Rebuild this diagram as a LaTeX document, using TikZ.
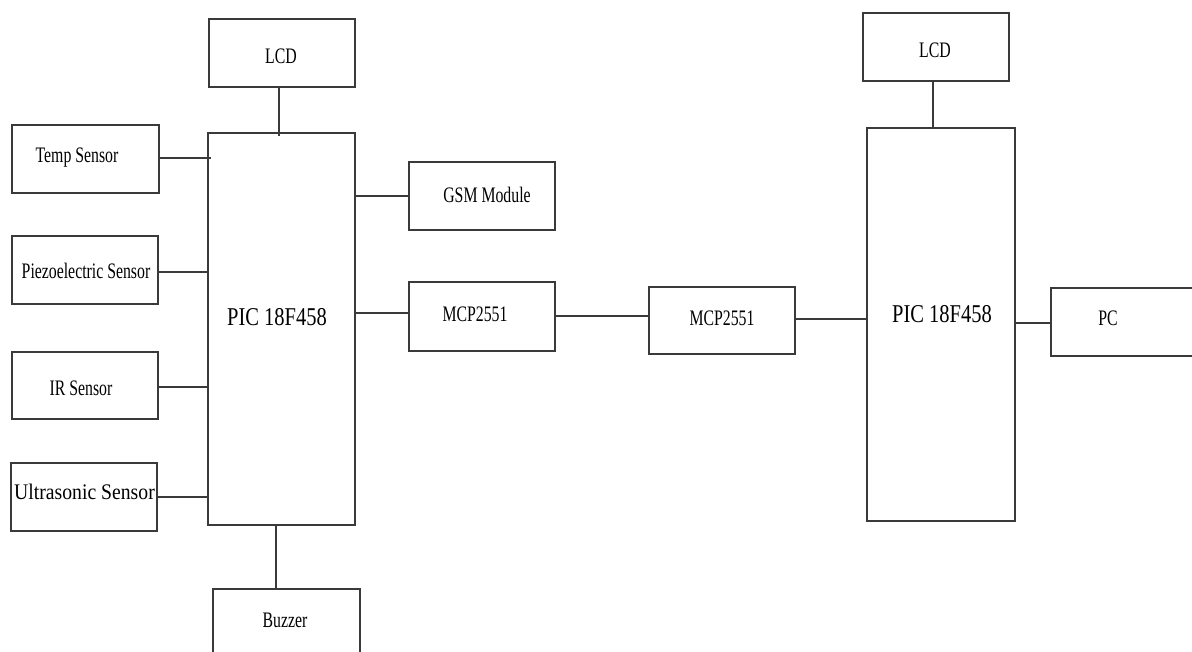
\documentclass[tikz,border=0pt]{standalone}
\usepackage{fontspec}
\usepackage{graphicx}
\setmainfont{Liberation Serif}
\newcommand\stx[1]{\scalebox{1}[1.4]{#1}}
\newcommand\sty[1]{\scalebox{1}[1.25]{#1}}
\newcommand\stz[1]{\scalebox{1}[1.13]{#1}}
\definecolor{edge}{HTML}{3A3A3A}
\begin{document}
\begin{tikzpicture}[x=1pt,y=-1pt,
  box/.style={draw=edge, line width=1.3pt, fill=white, inner sep=0pt, minimum width=146pt, minimum height=68pt},
  lbl/.style={inner sep=0pt, font=\fontsize{15.8}{16}\selectfont, text=black},
  wide/.style={inner sep=0pt, font=\fontsize{19.7}{20}\selectfont, text=black},
  big/.style={inner sep=0pt, font=\fontsize{20.5}{21}\selectfont, text=black},
  wire/.style={draw=edge, line width=1.3pt}]
\useasboundingbox (0,0) rectangle (1192,652);
\clip (0,0) rectangle (1192,652);
% boxes
\node[box] (lcda) at (282,53) {};
\node[box, minimum width=147pt, minimum height=392pt] (pica) at (281.5,329) {};
\node[box, minimum width=147pt] (temp) at (85.5,159) {};
\node[box] (piezo) at (85,270) {};
\node[box, minimum height=67pt] (ir) at (85,385.5) {};
\node[box] (ultra) at (84,497) {};
\node[box] (gsm) at (482,196) {};
\node[box, minimum height=69pt] (mcpa) at (482,316.5) {};
\node[box, minimum height=67pt] (mcpb) at (722,320.5) {};
\node[box, minimum width=148pt, minimum height=393pt] (picb) at (941,324.5) {};
\node[box] (lcdb) at (936,47) {};
\node[box, minimum width=160pt] (pc) at (1131,322) {};
\node[box, minimum width=147pt, minimum height=80pt] (buzz) at (286.5,629) {};
% texts
\node[lbl] (lcdat) at (281,56) {\stx{LCD}};
\node[big] (picat) at (277,317) {\sty{PIC 18F458}};
\node[lbl] (tempt) at (77,158) {\stx{Temp Sensor}};
\node[lbl] (piezot) at (86,271) {\stx{Piezoelectric Sensor}};
\node[lbl] (irt) at (81,388) {\stx{IR Sensor}};
\node[wide] (ultrat) at (84.5,492) {\stz{Ultrasonic Sensor}};
\node[lbl] (gsmt) at (487,195) {\stx{GSM Module}};
\node[lbl] (mcpat) at (475,314) {\stx{MCP2551}};
\node[lbl] (mcpbt) at (722,318) {\stx{MCP2551}};
\node[big] (picbt) at (942,314) {\sty{PIC 18F458}};
\node[lbl] (lcdbt) at (935,50) {\stx{LCD}};
\node[lbl] (pct) at (1108,318) {\stx{PC}};
\node[lbl] (buzzt) at (285,620) {\stx{Buzzer}};
% wires
\draw[wire] ([xshift=-3pt]lcda.south) -- ([xshift=-3pt,yshift=-4pt]lcda.south |- pica.north);
\draw[wire] ([yshift=1pt]temp.east) -- ([xshift=4pt,yshift=1pt]temp.east -| pica.west);
\draw[wire] ([yshift=-2pt]piezo.east) -- ([yshift=-2pt]piezo.east -| pica.west);
\draw[wire] ([yshift=-1.5pt]ir.east) -- ([yshift=-1.5pt]ir.east -| pica.west);
\draw[wire] (ultra.east) -- ([xshift=1pt]ultra.east -| pica.west);
\draw[wire] (gsm.west) -- (gsm.west -| pica.east);
\draw[wire] ([yshift=3.5pt]mcpa.west) -- ([yshift=3.5pt]mcpa.west -| pica.east);
\draw[wire] ([yshift=0.5pt]mcpa.east) -- ([yshift=0.5pt]mcpa.east -| mcpb.west);
\draw[wire] ([yshift=1.5pt]mcpb.east) -- ([yshift=1.5pt]mcpb.east -| picb.west);
\draw[wire] ([yshift=-1pt]picb.east |- pc.west) -- ([yshift=-1pt]pc.west);
\draw[wire] ([xshift=-3pt]lcdb.south) -- ([xshift=-3pt]lcdb.south |- picb.north);
\draw[wire] ([xshift=-5.5pt]pica.south) -- ([xshift=-5.5pt]pica.south |- buzz.north);
\end{tikzpicture}
\end{document}
